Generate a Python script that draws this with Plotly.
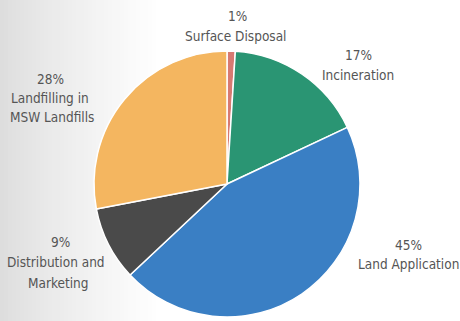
import plotly.graph_objects as go

# Biosolids use/disposal shares (percent), clockwise from 12 o'clock
categories = ["Surface Disposal", "Incineration", "Land Application",
              "Distribution and Marketing", "Landfilling in MSW Landfills"]
shares = [1, 17, 45, 9, 28]
label_lines = [["Surface Disposal"], ["Incineration"], ["Land Application"],
               ["Distribution and", "Marketing"], ["Landfilling in", "MSW Landfills"]]

colors = ["#d77a72", "#2a9573", "#3a7fc4", "#4a4a4a", "#f4b660"]

W, H = 460, 321
cx, cy, r = 227, 184, 133  # pie centre / radius in pixels

fig = go.Figure()
fig.add_trace(go.Pie(
    labels=categories,
    values=shares,
    sort=False,
    direction="clockwise",
    rotation=0,
    textinfo="none",
    hoverinfo="label+percent",
    marker=dict(colors=colors, line=dict(color="#ffffff", width=1.5)),
    domain=dict(x=[(cx - r) / W, (cx + r) / W],
                y=[(H - cy - r) / H, (H - cy + r) / H]),
    showlegend=False,
))

# soft grey wash on the left side of the page
shapes = []
steps = 40
for i in range(steps):
    x0 = i * 4
    g = int(221 + (255 - 221) * (i / (steps - 1)) ** 0.8)
    shapes.append(dict(type="rect", xref="paper", yref="paper",
                       x0=x0 / W, x1=(x0 + 4.5) / W, y0=0, y1=1,
                       fillcolor=f"rgb({g},{g},{g})", line=dict(width=0),
                       layer="below"))

# label block: x centre (px) and y centre (px) of each text line
label_x = [[237, 235], [358, 358], [408, 408], [60, 56, 58], [50, 50, 52]]
label_y = [[16, 36], [55, 75], [245, 264], [242, 262, 283], [79, 98, 117]]

font = dict(family="DejaVu Sans Condensed, Liberation Sans Narrow, Arial Narrow, sans-serif",
            size=13.5, color="#555555")
annotations = []
for lines, val, xs, ys in zip(label_lines, shares, label_x, label_y):
    texts = [f"{val}%"] + lines
    for t, px, py in zip(texts, xs, ys):
        annotations.append(dict(
            x=px / W, y=1 - py / H, xref="paper", yref="paper",
            xanchor="center", yanchor="middle", showarrow=False,
            text=t, font=font,
        ))

fig.update_layout(
    width=W, height=H,
    margin=dict(l=0, r=0, t=0, b=0),
    paper_bgcolor="#ffffff",
    plot_bgcolor="#ffffff",
    shapes=shapes,
    annotations=annotations,
)

fig.write_html("out.html")
